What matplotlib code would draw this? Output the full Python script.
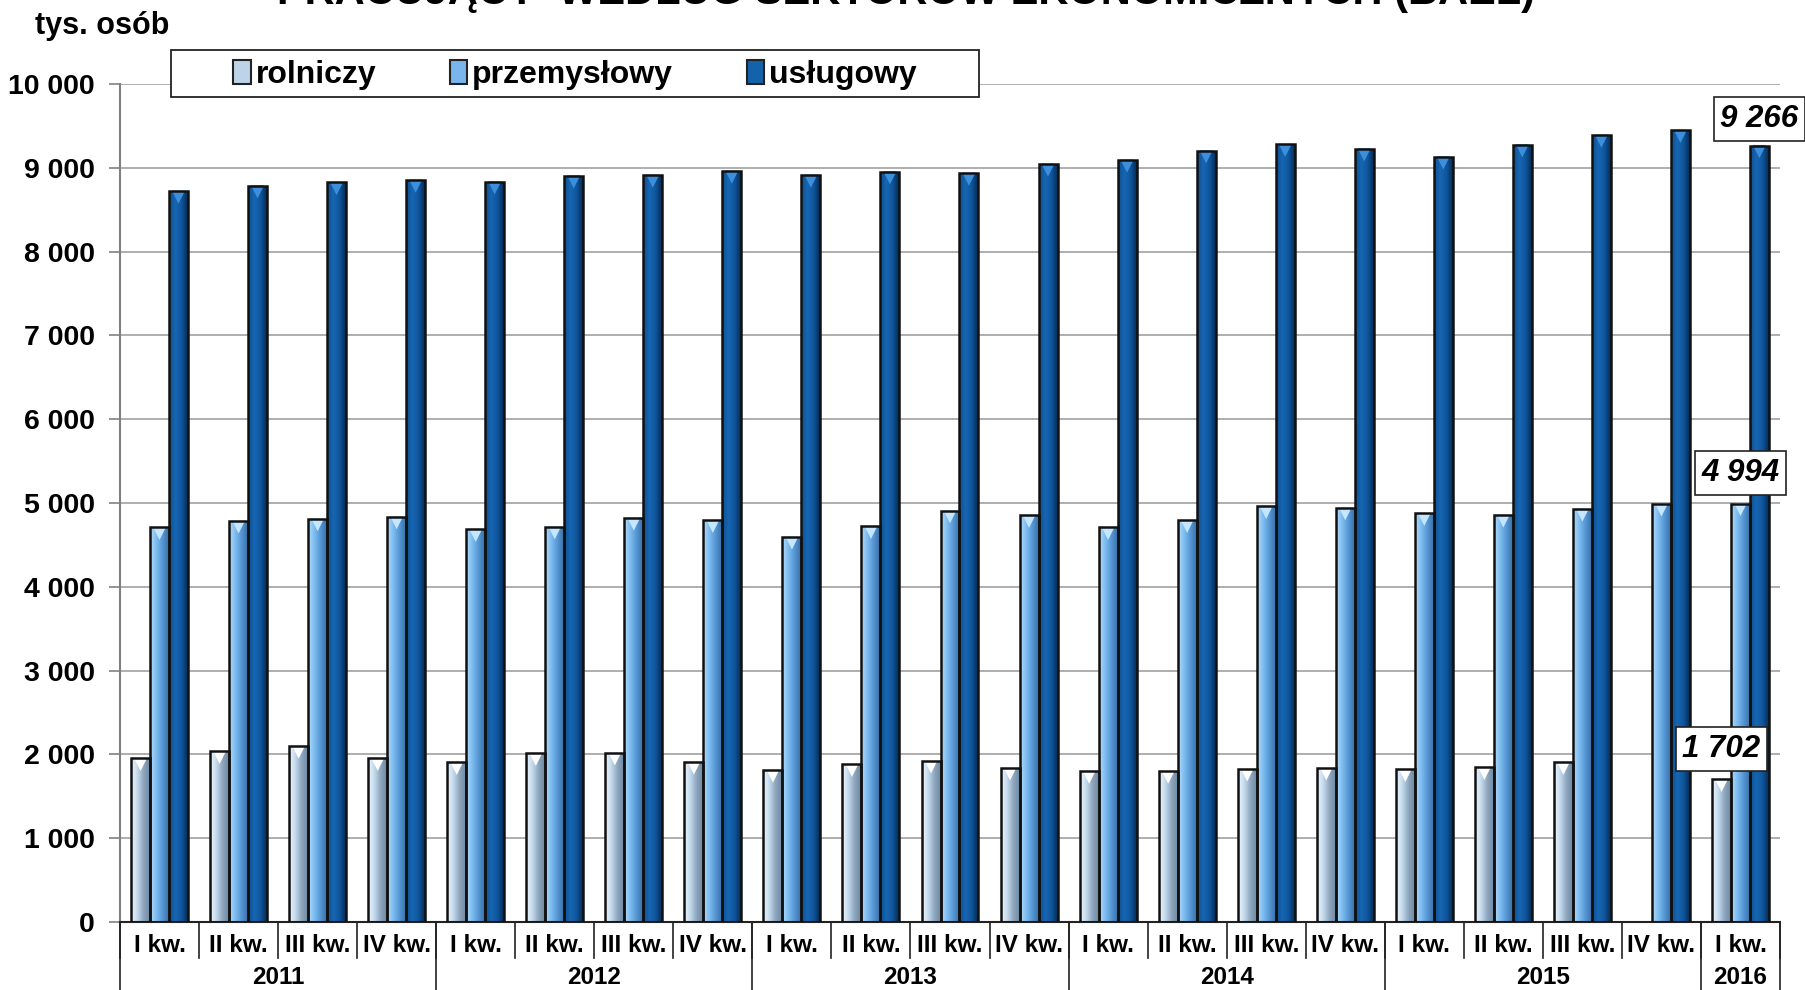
import numpy as np
import matplotlib.pyplot as plt
from matplotlib.colors import LinearSegmentedColormap
from matplotlib.patches import Rectangle
from matplotlib.transforms import offset_copy

plt.rcParams['font.family'] = ['Liberation Sans', 'DejaVu Sans']

# Dane (tys. osób), BAEL
quarters = ['I kw.', 'II kw.', 'III kw.', 'IV kw.'] * 5 + ['I kw.']
years = ['2011', '2012', '2013', '2014', '2015', '2016']
year_len = [4, 4, 4, 4, 4, 1]

rolniczy = [1952, 2036, 2099, 1952, 1905, 2012, 2019, 1909, 1813, 1882, 1923,
            1841, 1799, 1799, 1827, 1841, 1821, 1845, 1905, np.nan, 1702]
przemyslowy = [4709, 4785, 4813, 4837, 4685, 4717, 4821, 4793, 4594, 4721, 4908,
               4853, 4709, 4793, 4960, 4944, 4877, 4857, 4928, 4988, 4994]
uslugowy = [8721, 8785, 8825, 8853, 8833, 8904, 8912, 8960, 8912, 8952, 8936,
            9044, 9092, 9203, 9279, 9227, 9131, 9275, 9390, 9446, 9266]

labels = ['rolniczy', 'przemysłowy', 'usługowy']
series = [rolniczy, przemyslowy, uslugowy]
# gradient colours left -> right for each series
grads = [['#eef6fd', '#c3d9ec', '#8ea6bd', '#6f8aa3'],
         ['#b3dcfb', '#7cbcf0', '#5596d4', '#3a70a8'],
         ['#0d4f8f', '#1767b3', '#0f559b', '#062c55']]
mids = ['#bcd3e8', '#78b6ec', '#1462aa']
tips = ['#ffffff', '#c4e6ff', '#3d8fdc']

W, H = 1806, 990
fig = plt.figure(figsize=(W / 100, H / 100), dpi=100)
ax = fig.add_axes([120 / W, 68 / H, (1780 - 120) / W, (922 - 84) / H])

x = np.arange(len(quarters))
bw = 0.24
grad_img = np.linspace(0, 1, 64).reshape(1, -1)
tip_trans = offset_copy(ax.transData, fig=fig, y=-6, units='dots')

for k, (vals, lab) in enumerate(zip(series, labels)):
    xs = x + (k - 1) * bw
    bars = ax.bar(xs, vals, width=bw, color=mids[k], edgecolor='none', zorder=2, label=lab)
    cmap = LinearSegmentedColormap.from_list('g%d' % k, grads[k])
    for b, v in zip(bars, vals):
        if np.isnan(v):
            continue
        im = ax.imshow(grad_img, extent=(b.get_x(), b.get_x() + bw, 0, v),
                       aspect='auto', cmap=cmap, zorder=2.5, interpolation='bicubic')
        im.set_clip_path(b)
    # small bevel triangle at the top of each bar
    ax.scatter(xs, vals, marker='v', s=90, color=tips[k], edgecolor='none',
               transform=tip_trans, zorder=2.8)
    ax.bar(xs, vals, width=bw, facecolor='none', edgecolor='#111111', linewidth=1.8, zorder=3)

ax.set_xlim(-0.5, len(quarters) - 0.5)
ax.set_ylim(0, 10000)
ax.set_aspect('auto')

# y axis
yt = np.arange(0, 10001, 1000)
ax.set_yticks(yt)
ax.set_yticklabels(['{:,}'.format(v).replace(',', ' ') for v in yt],
                   fontsize=20.5, fontweight='bold')
ax.tick_params(axis='y', length=8, width=1.2, color='#808080', pad=10)
ax.yaxis.grid(True, color='#a8a8a8', linewidth=1.3, zorder=0)
ax.set_axisbelow(True)
ax.spines['left'].set_color('#808080')
ax.spines['left'].set_linewidth(1.5)
ax.spines['top'].set_visible(False)
ax.spines['right'].set_visible(False)
ax.spines['bottom'].set_color('#222222')
ax.spines['bottom'].set_linewidth(1.5)

# x axis: quarters + years
ax.set_xticks([])
trans = ax.get_xaxis_transform()
hpx = 922 - 84
for i, q in enumerate(quarters):
    ax.text(i, -24 / hpx, q, transform=trans, ha='center', va='center',
            fontsize=17.5, fontweight='bold')
for i in range(len(quarters) + 1):
    ax.plot([i - 0.5, i - 0.5], [0, -36 / hpx], transform=trans, color='#222222',
            linewidth=1.2, clip_on=False)
start = 0
bounds = [0]
for y, n in zip(years, year_len):
    ax.text(start + n / 2 - 0.5, -56 / hpx, y, transform=trans, ha='center',
            va='center', fontsize=17.5, fontweight='bold')
    start += n
    bounds.append(start)
for b in bounds:
    ax.plot([b - 0.5, b - 0.5], [0, -70 / hpx], transform=trans, color='#222222',
            linewidth=1.2, clip_on=False)

# value labels for the last quarter
last = len(quarters) - 1
for k, (vals, dy) in enumerate(zip(series, [22, 22, 19])):
    v = vals[last]
    ax.annotate('{:,}'.format(int(v)).replace(',', ' '), xy=((last + (k - 1) * bw), v),
                xytext=(0, dy), textcoords='offset points', ha='center', va='center',
                fontsize=22.5, fontweight='bold', fontstyle='italic', zorder=5,
                bbox=dict(boxstyle='square,pad=0.22', fc='white', ec='#222222', lw=1.2))

# legend with its own frame
fig.patches.append(Rectangle((171 / W, 1 - 97 / H), (979 - 171) / W, 47 / H,
                             transform=fig.transFigure, facecolor='white',
                             edgecolor='#222222', linewidth=1.3, zorder=4))
handles = [Rectangle((0, 0), 1, 1, facecolor=mids[k], edgecolor='#222222', linewidth=1.5)
           for k in range(3)]
fig.legend(handles, labels, loc='center', bbox_to_anchor=(575 / W, 1 - 75 / H),
           ncol=3, frameon=False, prop={'weight': 'bold', 'size': 23},
           handlelength=0.55, handleheight=0.75, handletextpad=0.15, columnspacing=2.3)

fig.text(35 / W, 1 - 26 / H, 'tys. osób', fontsize=22, fontweight='bold', va='center')
fig.text(906 / W, 1 - 4 / H, 'PRACUJĄCY  WEDŁUG SEKTORÓW EKONOMICZNYCH (BAEL)',
         fontsize=30, fontweight='bold', ha='center', va='baseline')

fig.savefig('out.png', dpi=100)
